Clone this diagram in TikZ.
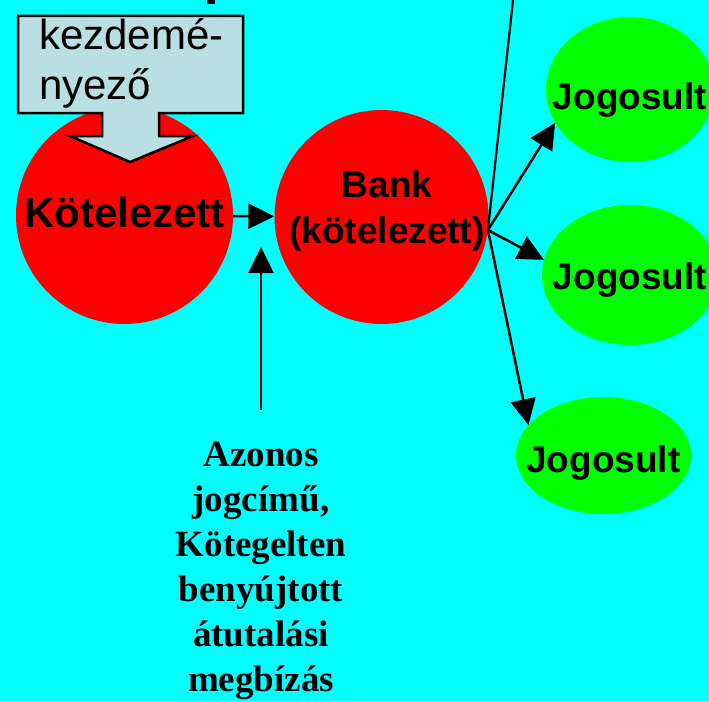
\documentclass[tikz,border=0pt]{standalone}
\usepackage{fontspec}
\setmainfont{Liberation Serif}
\setsansfont{Liberation Sans}
\usetikzlibrary{shapes.geometric,arrows.meta}
\definecolor{calloutfill}{RGB}{185,222,227}
\definecolor{skycyan}{RGB}{0,255,255}
\definecolor{ballred}{RGB}{255,0,0}
\definecolor{leafgreen}{RGB}{0,255,0}

\begin{document}
\begin{tikzpicture}[x=1pt, y=-1pt]
    \tikzstyle{every node}=[inner sep=0pt]
    \tikzstyle{party}=[circle, fill=ballred]
    \tikzstyle{payee}=[ellipse, fill=leafgreen]
    \tikzstyle{bold sans}=[font=\sffamily\bfseries\fontsize{37}{46}\selectfont, align=center]
    \tikzstyle{arr}=[line width=2.5pt, -{Triangle[length=26pt, width=25pt]}]

% Background, with the frame of the picture fixed to it.

    \fill[skycyan] (0,0) rectangle (709,701);
    \useasboundingbox (0,0) rectangle (709,701);
    \fill (207,0) rectangle (215,4);

    \node[party, minimum size=217pt, label={[bold sans, font=\sffamily\bfseries\fontsize{42}{50}\selectfont, yshift=3.5pt]center:Kötelezett}] (kot) at (124.5,215.5) {};
    \node[party, minimum size=214pt, label={[bold sans, xshift=5.5pt, yshift=6.5pt]center:{Bank\\(kötelezett)}}] (bank) at (381.5,217) {};

    \node[payee, minimum width=168pt, minimum height=145pt, label={[bold sans, yshift=-10.5pt]center:Jogosult}] (jog1) at (630,89.5) {};
    \node[payee, minimum width=176pt, minimum height=140pt, label={[bold sans, yshift=-5.5pt]center:Jogosult}] (jog2) at (630,275) {};
    \node[payee, minimum width=175pt, minimum height=117pt, label={[bold sans, yshift=-8pt]center:Jogosult}] (jog3) at (603.5,455.5) {};

% The callout with its arrow pointing down into the circle.

    \draw[line width=2.5pt, fill=calloutfill] (18,16) -- (243,16) -- (243,113) -- (159,113) -- (159,136) -- (193,136) -- (130,162) -- (70,136) -- (102,136) -- (102,113) -- (18,113) -- cycle;
    \node[font=\sffamily\fontsize{42}{50}\selectfont, align=left, anchor=north west] (kezd) at (39,18.5) {kezdemé-\\nyező};

    \node[font=\rmfamily\bfseries\fontsize{37}{45}\selectfont, align=center, anchor=north] (note) at (261,442) {Azonos\\jogcímű,\\Kötegelten\\benyújtott\\átutalási\\megbízás};

    \coordinate (fork) at (bank.-7);
    \coordinate (sky) at (513,0);
    \coordinate (foot) at (261,410);
    \coordinate (gap) at (261,247);

    \draw[arr] (kot) -- (bank);
    \draw[arr] (foot) -- (gap);
    \draw[line width=2.2pt] (fork) -- (sky);
    \draw[arr] (fork) -- (jog1.204);
    \draw[arr] (fork) -- (jog2.170);
    \draw[arr] (fork) -- (jog3.158);

\end{tikzpicture}
\end{document}
